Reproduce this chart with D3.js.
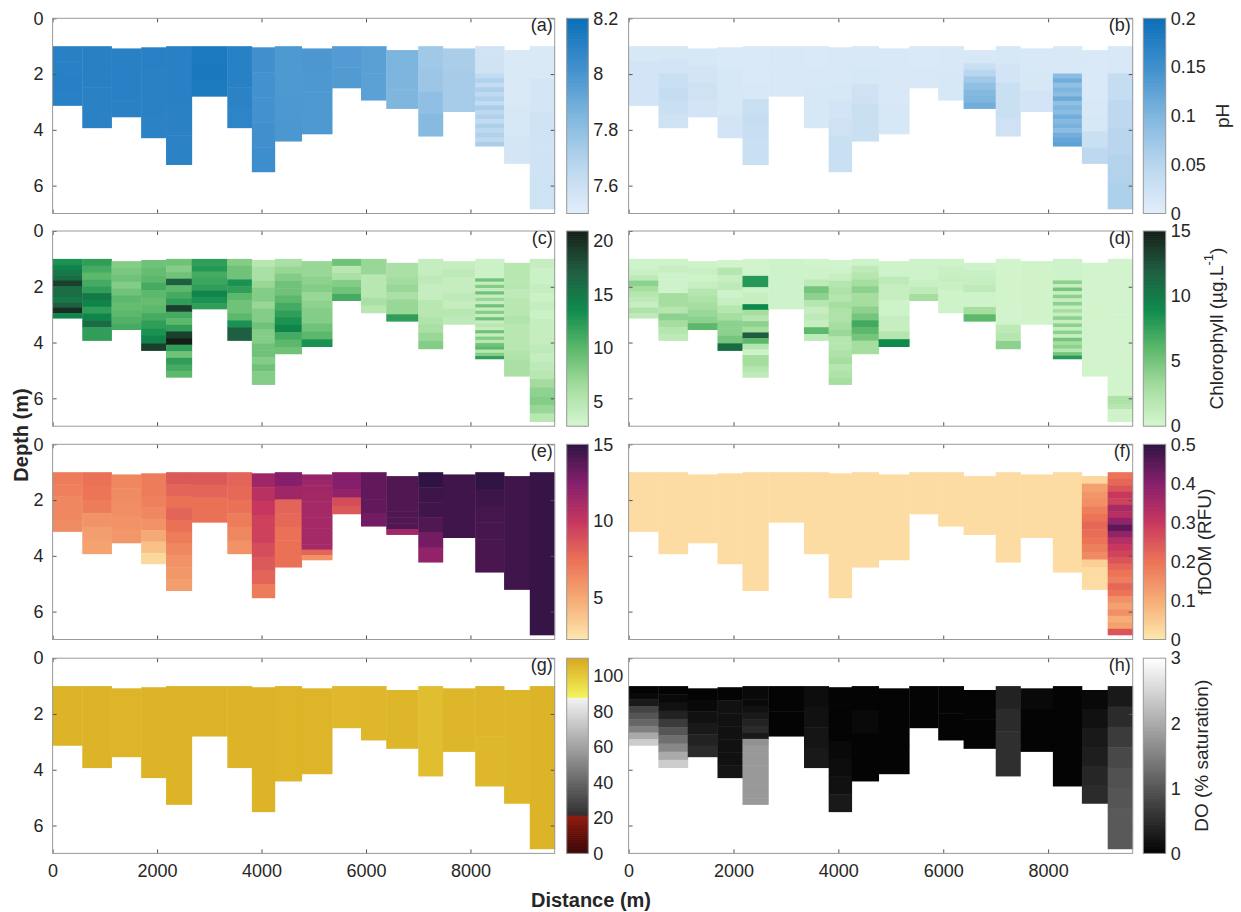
<!DOCTYPE html>
<html><head><meta charset="utf-8">
<script src="https://cdn.jsdelivr.net/npm/d3@7"></script>
<style>
body{margin:0;background:#fff}
text{font-family:"Liberation Sans",Arial,Helvetica,sans-serif;fill:#262626}
</style>
</head><body>
<svg id="chart" width="1241" height="912"></svg>
<script>
// ---------------- DATA ----------------
const stationEdges = [0, 568, 1128, 1695, 2172, 2664, 3345, 3815, 4254, 4768, 5351, 5904, 6388, 7001, 7471, 8091, 8644, 9136, 9613];
const profileTop    = [1.00,1.00,1.08,1.04,1.00,1.00,1.00,1.04,1.00,1.08,1.00,1.00,1.14,1.00,1.08,1.00,1.14,1.00];
const profileBottom = [3.14,3.94,3.55,4.30,5.26,2.81,3.94,5.52,4.42,4.16,2.51,2.95,3.25,4.24,3.36,4.60,5.22,6.85];
const depthTicks = [0, 2, 4, 6];
const distanceTicks = [0, 2000, 4000, 6000, 8000];

// pH mean (layers top -> bottom, equal thickness)
const phMean = [
 [8.10,8.10,8.105,8.10],
 [8.10,8.10,8.095,8.095],
 [8.10,8.10,8.10,8.095],
 [8.10,8.095,8.095,8.09],
 [8.10,8.10,8.095,8.09],
 [8.14,8.15,8.14],
 [8.10,8.10,8.09,8.085],
 [8.02,8.015,8.015,8.02,8.03],
 [7.98,7.98,7.985,7.99],
 [7.99,7.985,7.98,7.98],
 [7.97,7.975],
 [7.95,7.945],
 [7.86,7.855,7.85],
 [7.75,7.76,7.80,7.83],
 [7.72,7.73,7.73],
 [7.58,7.58,7.58,7.58,7.58,7.58,7.64,7.70,7.63,7.71,7.65,7.70,7.63,7.72,7.66,7.70,7.64,7.71,7.66,7.70,7.65,7.72],
 [7.54,7.54,7.55,7.56],
 [7.54,7.56,7.58,7.58,7.59]
];
// pH standard deviation
const phStd = [
 [0.015,0.02,0.02,0.02],
 [0.015,0.02,0.03,0.035,0.03,0.025],
 [0.015,0.02,0.025,0.02],
 [0.01,0.015,0.015,0.02],
 [0.01,0.01,0.01,0.012,0.03,0.035,0.032,0.03,0.03],
 [0.012,0.012],
 [0.01,0.012,0.015,0.015],
 [0.012,0.012,0.015,0.02,0.025,0.03,0.03],
 [0.012,0.015,0.025,0.03,0.03],
 [0.012,0.012,0.015],
 [0.01,0.012],
 [0.012,0.015],
 [0.012,0.015,0.03,0.05,0.07,0.085,0.095,0.10,0.11],
 [0.015,0.02,0.03,0.03,0.025],
 [0.012,0.015,0.02],
 [0.012,0.012,0.012,0.012,0.012,0.012,0.09,0.11,0.085,0.10,0.09,0.115,0.085,0.10,0.09,0.11,0.095,0.105,0.09,0.11,0.12,0.125],
 [0.01,0.01,0.01,0.012,0.015,0.03,0.045],
 [0.012,0.035,0.045,0.05,0.055,0.06]
];
// Chlorophyll mean
const chlMean = [
 [13,14,15,16,19,16,16,15,17,20,14],
 [12,11,10,11,12,15,14,12,14,16,12,12],
 [8,8.5,9,8,9,10,9.5,10,10.5,11],
 [9,9.5,10,11,10,9.5,10,11,12,13,14,19],
 [9,8,9,17,10,11,12,19,11,10,12,19,22,12,9,12,11,10],
 [12,12.5,11,11.5,12,14,13,12],
 [8,9,9,13,12,10,9,9,10,13,17,17],
 [5,6,6,7,8,8,7,8,8,9,8,8,9,9,8,9,8,8],
 [6,7,8,9,9,10,11,12,13,14,11,10,9],
 [7,7,7.5,8,7,7.5,8,8,9,10,13],
 [9,5,6,8,9,11],
 [7,7,5,5,5,6,5],
 [6,6,6.5,7,6,7,7,12],
 [4,4,4.5,4,4,5,5,5.5,6,7,8],
 [4,4.5,4,4,4.5,4,5,4.5],
 [3.5,3.5,3.5,3.5,3.5,3.5,9,4,8,4,9,4,7,4,9,4,8,4,9,4,5,4,9,4,8,5,9,10,5,8,12],
 [5,5,5,4.5,5,5,5.5,5,5,5,5.5,6,6],
 [4,3.5,3.5,4,3.5,4,3.5,4,4,4,4.5,4,4.5,5,6.5,7.5,8,7,5]
];
// Chlorophyll standard deviation
const chlStd = [
 [0.5,0.5,0.8,1.5,4,3,2,1.5,1,2.5,1.5],
 [0.5,1,0.5,0.5,0.5,3,3,2,4,3,2,1.5],
 [0.5,0.8,0.5,1,2,2.5,3,3.5,4,6],
 [0.3,2,1,1.5,0.5,1,2,3,4,4,5,11],
 [0.3,0.3,0.3,8,8,0.5,1,1,9,3,2,4,3,12,6,2,0.5,3,3,2,1.5],
 [0.5,0.5],
 [0.3,0.5,0.5,1.5,5,4,2,1,1.5,1,6,1.5],
 [0.3,0.5,1,2,2.5,2,3,2.5,2.5,3,3.5,2,2,2.5,3,2,2.5,3],
 [0.5,1.5,2,3,4,3,3,4,5,7,6,5,3,3],
 [0.5,0.5,1.5,1,1,0.5,0.5,1,1,2,9],
 [0.5,0.5,0.5,0.8,1.5,3],
 [0.5,0.8,1,0.8,0.5,0.5,0.5],
 [0.5,0.8,1,1.5,0.5,0.5,3,6],
 [0.3,0.3,0.3,0.3,0.3,0.3,0.3,0.3,1.5,2,4],
 [0.4,0.4],
 [0.5,0.5,0.5,0.5,0.5,0.5,4,1,5,1,4,1,4,1,3,1,4,1,4,1,4,1,5,3,4,2,5,8],
 [0.3,0.3],
 [0.3,0.3,0.3,0.3,0.3,0.3,0.3,0.3,0.3,0.3,0.3,0.3,0.3,0.3,0.3,0.3,0.3,0.3,0.3,0.3,0.3,0.3,0.3,0.3,0.3,0.3,0.3,0.3,0.3,0.3,0.3,0.3,0.3,0.3,0.3,0.3,0.3,0.3,0.3,0.3,0.3,0.3,0.3,0.3,0.3,0.3,0.3,0.3,0.3,0.3,0.3,0.3,0.3,0.3,0.3,0.3,0.3,0.3,0.3,0.3,0.3,0.3,0.3,0.3,0.3,0.3,0.3,0.3,0.3,0.3,0.3,0.3,0.3,0.3,0.3,0.3,0.3,0.3,0.3,0.3,0.3,0.3,0.3,0.3,2.5,2.5,2.5,2.5,2.5,2,2,2,0.5,0.5,0.5,0.5,0.5,0.5,0.5,0.5]
];
// fDOM mean
const fdomMean = [
 [7,6.8,6.5,6.5,6.3],
 [7.5,7.3,7,6,5.5,5.3],
 [6.5,6.3,6.2,6,5.8],
 [7,7,6.8,6.5,6,5,4,3],
 [8.5,8,7.5,8,7.5,7,6.5,6,5.8,5.5],
 [8.5,8,7.5,7.5],
 [8,7.8,7.5,7,6.5,6],
 [11.5,10.5,10,9.5,9.5,9,8.5,8,7],
 [12.5,11.5,8,7.8,7.5,7.5,7.5],
 [11.8,11.6,11.5,11.4,11.4,11.3,11.3,11.3,11.3,11.3,11.3,11.3,11.3,11.3,8,6],
 [12.5,12.5,12,9,8.5],
 [13.5,13.5,13.5,13],
 [14,14,14,14,14,14,14,14,14,11.5],
 [15,14.6,14.5,14,13,12],
 [14.5,14.5,14.5],
 [15,14.6,14.4,14.3,14.2,14.2],
 [14.5,14.5,14.5],
 [14.8,14.8,14.8]
];
// fDOM standard deviation
const fdomStd = [
 [0.02],[0.02],[0.02],[0.02],[0.02],[0.02],[0.02],[0.02],[0.02],
 [0.02],[0.02],[0.02],[0.02],[0.02],[0.02],[0.02],
 [0.03,0.12,0.14,0.15,0.18,0.2,0.22,0.21,0.2,0.18,0.16,0.04,0.02,0.02,0.02],
 [0.2,0.22,0.25,0.3,0.28,0.35,0.33,0.38,0.45,0.38,0.33,0.3,0.28,0.25,0.22,0.2,0.18,0.22,0.2,0.15,0.12,0.15,0.1,0.12,0.25]
];
// DO mean (% saturation)
const doMean = [
 [106.5],[106.5],[106.3],[106.5],[106.5],[106.5],[106.4],[106.5],[106.3],
 [106.3],[105.5],[105.8],[106],[103.5],[106],[106.3,105.8],[106],[106.5]
];
// DO standard deviation
const doStd = [
 [0.05,0.1,0.3,0.8,1.0,1.2,1.5,2.0,2.4],
 [0.05,0.1,0.2,0.4,0.7,1.0,1.3,1.6,2.0,2.4],
 [0.05,0.1,0.2,0.3,0.4,0.5],
 [0.05,0.2,0.2,0.2,0.2,0.2,0.25],
 [0.1,0.1,0.1,0.2,0.3,0.4,0.5,0.3,1.7,1.8,1.8,1.8,1.8,1.8,1.8,1.8,1.8,1.8],
 [0.05,0.05],
 [0.15,0.2,0.25,0.3],
 [0.05,0.05,0.05,0.1,0.15,0.2,0.3],
 [0.05,0.1,0.05,0.05],
 [0.05,0.05,0.05],
 [0.05],
 [0.05,0.05],
 [0.05,0.05],
 [0.4,0.5,0.55,0.55],
 [0.1,0.05,0.05],
 [0.05],
 [0.1,0.2,0.3,0.35,0.45,0.5],
 [0.3,0.5,0.7,0.85,0.95,1.0,1.05,1.05]
];

// ---------------- COLOUR MAPS ----------------
const bluesStops = ["#e2eef9","#b9d6ee","#7fb6de","#3f8fcd","#0a6fb8"];
const greensStops = ["#d6f6d1","#a6dea0","#5cb86a","#0d8a4c","#1f5c40","#151f17"];
const matterStops = ["#fde8ad","#f6ad76","#ec7356","#c8375e","#861e6c","#2f1343"];
function stopsMap(stops){
  const s = d3.scaleLinear().domain(stops.map((_,i)=>i/(stops.length-1))).range(stops).interpolate(d3.interpolateRgb).clamp(true);
  return t => s(t);
}
const blues = stopsMap(bluesStops), greens = stopsMap(greensStops), matter = stopsMap(matterStops);
function oxy(v){ // v in % saturation
  if (v < 21.5) return d3.interpolateRgb("#3a0606","#8e1a0e")(v/21.5);
  if (v < 88)   return d3.interpolateRgb("#2e2e2e","#f3f3f3")((v-21.5)/(88-21.5));
  return d3.interpolateRgb("#f4f45c","#d9a81e")(Math.min(1,(v-88)/22));
}
const grayMap = t => d3.interpolateRgb("#000000","#ffffff")(t);

// ---------------- LAYOUT ----------------
const svg = d3.select("#chart");
const colX = [[52.6,554.7],[628.6,1132.7]];
const cbX  = [[566.7,588.3],[1143.3,1165.7]];
const rowTop = [18.3, 231, 444.3, 658.2];
const panelH = 195.2;

const panels = [
 {tag:"(a)", data:phMean,  col:0,row:0, domain:[7.5,8.2],  ticks:[7.6,7.8,8,8.2], cmap:t=>blues(t)},
 {tag:"(b)", data:phStd,   col:1,row:0, domain:[0,0.2],    ticks:[0,0.05,0.1,0.15,0.2], cmap:t=>blues(t), label:"pH", labelX:1222},
 {tag:"(c)", data:chlMean, col:0,row:1, domain:[2.7,20.9], ticks:[5,10,15,20], cmap:t=>greens(t)},
 {tag:"(d)", data:chlStd,  col:1,row:1, domain:[0,15],     ticks:[0,5,10,15], cmap:t=>greens(t), label:"chl", labelX:1216},
 {tag:"(e)", data:fdomMean,col:0,row:2, domain:[2.3,15],   ticks:[5,10,15], cmap:t=>matter(t)},
 {tag:"(f)", data:fdomStd, col:1,row:2, domain:[0,0.5],    ticks:[0,0.1,0.2,0.3,0.4,0.5], cmap:t=>matter(t), label:"fDOM (RFU)", labelX:1204},
 {tag:"(g)", data:doMean,  col:0,row:3, domain:[0,110],    ticks:[0,20,40,60,80,100], cmap:null, oxy:true},
 {tag:"(h)", data:doStd,   col:1,row:3, domain:[0,3],      ticks:[0,1,2,3], cmap:t=>grayMap(t), label:"DO (% saturation)", labelX:1201}
];

const axisColor = "#9a9a9a";
const fmt = d => String(d);

panels.forEach(p => {
  const [x0,x1] = colX[p.col];
  const top = rowTop[p.row], bot = top + panelH;
  const x = d3.scaleLinear().domain([0, 9613]).range([x0, x1]);
  const y = d3.scaleLinear().domain([0, 7]).range([top, bot]);
  const cval = d3.scaleLinear().domain(p.domain).range([0,1]).clamp(true);
  const color = v => p.oxy ? oxy(Math.max(p.domain[0], Math.min(p.domain[1], v))) : p.cmap(cval(v));
  const g = svg.append("g");

  // data columns
  p.data.forEach((vals, s) => {
    const t = profileTop[s], b = profileBottom[s], n = vals.length, h = (b - t) / n;
    g.append("g").selectAll("rect").data(vals).join("rect")
      .attr("x", x(stationEdges[s]))
      .attr("width", x(stationEdges[s+1]) - x(stationEdges[s]) + 0.4)
      .attr("y", (v,i) => y(t + i*h))
      .attr("height", (v,i) => y(t + (i+1)*h) - y(t + i*h) + (i < n-1 ? 0.5 : 0))
      .attr("fill", v => color(v));
  });

  // axes (ticks inward)
  const ax = svg.append("g").attr("class","ax");
  ax.append("g").attr("transform",`translate(${x0},0)`)
     .call(d3.axisLeft(y).tickValues(depthTicks).tickSize(-4).tickPadding(9)
       .tickFormat(p.col === 0 ? fmt : ""));
  ax.append("g").attr("transform",`translate(${x1},0)`)
     .call(d3.axisRight(y).tickValues(depthTicks).tickSize(-4).tickFormat(""));
  ax.append("g").attr("transform",`translate(0,${top})`)
     .call(d3.axisTop(x).tickValues(distanceTicks).tickSize(-4).tickFormat(""));
  ax.append("g").attr("transform",`translate(0,${bot})`)
     .call(d3.axisBottom(x).tickValues(distanceTicks).tickSize(-4).tickPadding(11)
       .tickFormat(p.row === 3 ? fmt : ""));
  ax.selectAll(".domain").remove();
  ax.selectAll(".tick line").attr("stroke","#555").attr("stroke-width",1);
  ax.selectAll(".tick text").attr("font-size",18).attr("fill","#262626")
     .attr("font-family","Liberation Sans, Arial, sans-serif");
  ax.append("rect").attr("x",x0).attr("y",top).attr("width",x1-x0).attr("height",bot-top)
     .attr("fill","none").attr("stroke",axisColor).attr("stroke-width",1);

  // panel tag
  svg.append("text").attr("x", x1 - 2).attr("y", top + 12.5).attr("text-anchor","end")
     .attr("font-size",18).text(p.tag);

  // colorbar
  const [c0,c1] = cbX[p.col];
  const cy = d3.scaleLinear().domain(p.domain).range([bot, top]);
  const N = 300;
  const steps = d3.range(N).map(i => p.domain[0] + (p.domain[1]-p.domain[0])*(i+0.5)/N);
  const stepH = panelH / N;
  svg.append("g").selectAll("rect").data(steps).join("rect")
     .attr("x", c0).attr("width", c1-c0)
     .attr("y", (v,i) => bot - (i+1)*stepH).attr("height", stepH + 0.6)
     .attr("fill", v => color(v));
  svg.append("rect").attr("x",c0).attr("y",top).attr("width",c1-c0).attr("height",panelH)
     .attr("fill","none").attr("stroke",axisColor);
  const cax = svg.append("g").attr("transform",`translate(${c1},0)`)
     .call(d3.axisRight(cy).tickValues(p.ticks).tickSize(0).tickPadding(5).tickFormat(fmt));
  cax.select(".domain").remove();
  cax.selectAll("text").attr("font-size",18).attr("fill","#262626")
     .attr("font-family","Liberation Sans, Arial, sans-serif");

  // colorbar label
  if (p.label) {
    const cyMid = (top + bot)/2;
    const t = svg.append("text")
      .attr("transform",`translate(${p.labelX},${cyMid}) rotate(-90)`)
      .attr("text-anchor","middle").attr("dominant-baseline","central")
      .attr("font-size",19);
    if (p.label === "chl") {
      t.append("tspan").text("Chlorophyll (µg.L");
      t.append("tspan").attr("font-size",13).attr("dy",-8).text("-1");
      t.append("tspan").attr("dy",8).text(")");
    } else t.text(p.label);
  }
});

// shared axis titles
svg.append("text").attr("transform","translate(21,435) rotate(-90)")
  .attr("text-anchor","middle").attr("dominant-baseline","central")
  .attr("font-size",20).attr("font-weight","bold").text("Depth (m)");
svg.append("text").attr("x",591).attr("y",900)
  .attr("text-anchor","middle").attr("dominant-baseline","central")
  .attr("font-size",20).attr("font-weight","bold").text("Distance (m)");
</script>
</body></html>
